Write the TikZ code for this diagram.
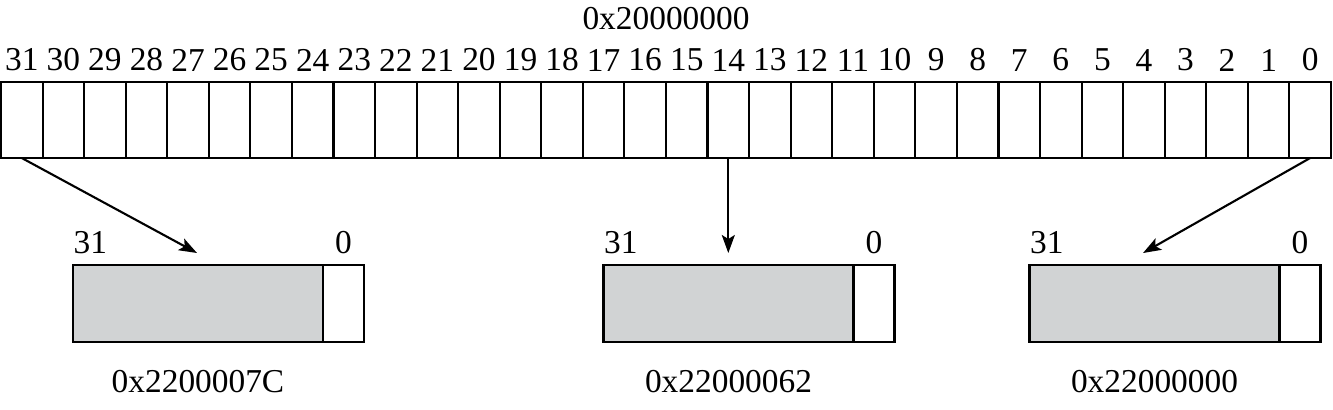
\documentclass[tikz,border=0pt]{standalone}
\usepackage{fontspec}
\setmainfont{Liberation Serif}
\usepackage{xcolor}
\usetikzlibrary{arrows.meta, positioning}
\definecolor{alias_gray}{RGB}{209,211,212}
\tikzset{
  cell/.style={draw, semithick, inner sep=0pt, outer sep=0pt, minimum width=4.156mm, minimum height=7.6mm},
  alias_box/.style={draw, semithick, fill=alias_gray, inner sep=0pt, outer sep=0pt, minimum width=25mm, minimum height=7.7mm},
  bit_box/.style={draw, semithick, inner sep=0pt, outer sep=0pt, minimum width=4.1mm, minimum height=7.7mm},
  map_arrow/.style={semithick, -{Stealth[length=1.8mm, width=1.3mm, inset=0.4mm]}}
}

\begin{document}
\begin{tikzpicture}[x=0.1mm, y=-0.1mm, font=\fontsize{9.5}{11}\selectfont]
\useasboundingbox (0,0) rectangle (1333,409);

\foreach \n in {0,...,31}{
  \node[cell] (bit_\n) at ({1310.14-41.56*\n},120) {};
  \node[above=1mm of bit_\n, inner sep=0pt] (num_\n) {\n};
}
\node[anchor=base] (word_addr) at (666,29) {0x20000000};

\node[alias_box] (gray_a) at (198,303.5) {};
\node[bit_box, right=0pt of gray_a] (white_a) {};
\node[anchor=south west, inner xsep=0pt, inner ysep=1mm] (msb_a) at (gray_a.north west) {31};
\node[anchor=south, inner ysep=1mm] (lsb_a) at (white_a.north) {0};
\node[below=1.6mm of gray_a] (addr_a) {0x2200007C};

\node[alias_box] (gray_b) at (728.5,303.5) {};
\node[bit_box, right=0pt of gray_b] (white_b) {};
\node[anchor=south west, inner xsep=0pt, inner ysep=1mm] (msb_b) at (gray_b.north west) {31};
\node[anchor=south, inner ysep=1mm] (lsb_b) at (white_b.north) {0};
\node[below=1.6mm of gray_b] (addr_b) {0x22000062};

\node[alias_box] (gray_c) at (1154.5,303.5) {};
\node[bit_box, right=0pt of gray_c] (white_c) {};
\node[anchor=south west, inner xsep=0pt, inner ysep=1mm] (msb_c) at (gray_c.north west) {31};
\node[anchor=south, inner ysep=1mm] (lsb_c) at (white_c.north) {0};
\node[below=1.6mm of gray_c] (addr_c) {0x22000000};

\coordinate (tip_a) at (197,253);
\coordinate (tip_b) at (728.3,253);
\coordinate (tip_c) at (1143,253);

\draw[map_arrow] (bit_31.south) -- (tip_a);
\draw[map_arrow] (bit_14.south) -- (tip_b);
\draw[map_arrow] (bit_0.south) -- (tip_c);
\end{tikzpicture}
\end{document}
